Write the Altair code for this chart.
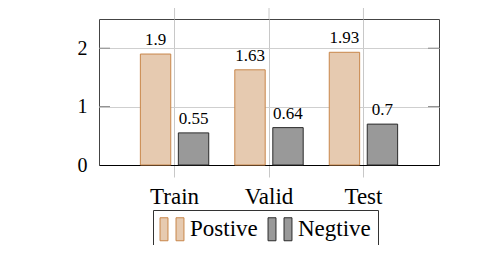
import altair as alt
import pandas as pd

categories = ["Train", "Valid", "Test"]
series = ["Postive", "Negtive"]
positive = [1.9, 1.63, 1.93]
negative = [0.55, 0.64, 0.7]
y_ticks = [0, 1, 2]

rows = []
for c, p, n in zip(categories, positive, negative):
    rows.append({"split": c, "type": "Postive", "value": p})
    rows.append({"split": c, "type": "Negtive", "value": n})
df = pd.DataFrame(rows)
ticks_df = pd.DataFrame({"v": [1, 2]})
cat_df = pd.DataFrame({"split": categories})

FONT = "Liberation Serif"
LEGEND_FONT = "Liberation Serif, Times New Roman, serif"
fill_scale = alt.Scale(domain=series, range=["#E6CAB0", "#999999"])
stroke_scale = alt.Scale(domain=series, range=["#C8864A", "#2b2b2b"])

two_bars = "M-1.04,-1 L-0.35,-1 L-0.35,1 L-1.04,1 Z M0.35,-1 L1.04,-1 L1.04,1 L0.35,1 Z"

legend = alt.Legend(
    title=None, orient="none", legendX=54, legendY=191, direction="horizontal",
    symbolType=two_bars, symbolSize=529, symbolStrokeWidth=1,
    labelFont=LEGEND_FONT, labelFontSize=23, labelColor="black", labelOffset=6,
    labelFontWeight="normal", labelFontStyle="normal",
    columnPadding=8, padding=7, strokeColor="#333333", fillColor="white",
)

x_enc = alt.X("split:N", sort=categories,
              scale=alt.Scale(paddingInner=0, paddingOuter=0.3),
              axis=alt.Axis(title=None, labelFont=FONT, labelFontSize=23, labelColor="black",
                            labelAngle=0, tickSize=12, tickColor="#c8c8c8", labelPadding=8,
                            domainColor="black", domainWidth=1.2, grid=True, gridColor="#c8c8c8"))
xoff = alt.XOffset("type:N", sort=series, scale=alt.Scale(paddingInner=0.2, paddingOuter=0.343))
y_enc = alt.Y("value:Q", scale=alt.Scale(domain=[0, 2.5], nice=False),
              axis=alt.Axis(title=None, values=y_ticks, format="d", labelFont=FONT, labelFontSize=20,
                            labelColor="black", tickSize=0, labelPadding=12, domain=False,
                            grid=True, gridColor="#cfcfcf"))

bars = alt.Chart(df).mark_bar(strokeWidth=1).encode(
    x=x_enc, xOffset=xoff, y=y_enc,
    fill=alt.Fill("type:N", scale=fill_scale, sort=series, legend=legend),
    stroke=alt.Stroke("type:N", scale=stroke_scale, sort=series, legend=legend),
)

labels = alt.Chart(df).mark_text(font=FONT, fontSize=17, color="black", baseline="alphabetic", dy=-9).encode(
    x=alt.X("split:N", sort=categories),
    xOffset=xoff,
    y=alt.Y("value:Q"),
    text=alt.Text("value:Q"),
)

top_ticks = alt.Chart(cat_df).mark_rule(color="#c8c8c8", strokeWidth=1).encode(
    x=alt.X("split:N", sort=categories), y=alt.value(-12), y2=alt.value(0))

left_ticks = alt.Chart(ticks_df).mark_rule(color="#888888", strokeWidth=1).encode(
    y=alt.Y("v:Q"), x=alt.value(0), x2=alt.value(11))
right_ticks = alt.Chart(ticks_df).mark_rule(color="#888888", strokeWidth=1).encode(
    y=alt.Y("v:Q"), x=alt.value(329), x2=alt.value(340))

chart = alt.layer(bars, labels, top_ticks, left_ticks, right_ticks).properties(
    width=340, height=146,
    autosize=alt.AutoSizeParams(type="none"),
    padding={"left": 91, "top": 11, "right": 50, "bottom": 80},
).configure_view(stroke="#444444", strokeWidth=1).configure_legend(
    labelFont=LEGEND_FONT, labelFontSize=23, labelColor="black"
)

chart.save("out.html", embed_options={"renderer": "svg", "actions": False})
